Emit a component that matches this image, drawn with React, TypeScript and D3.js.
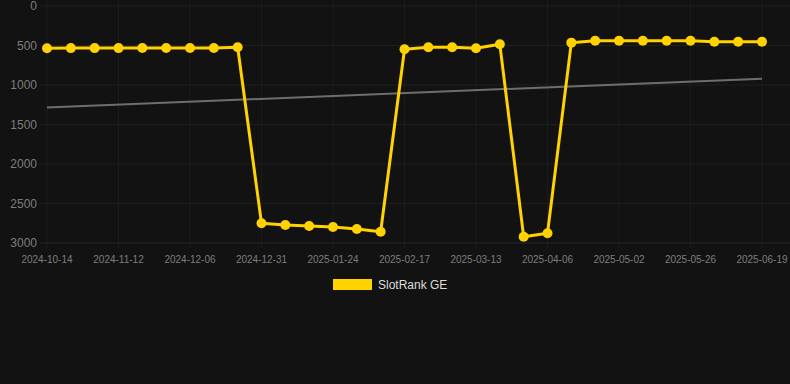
import React from "react";
import * as d3 from "d3";

const tickLabels = [
  "2024-10-14", "2024-11-12", "2024-12-06", "2024-12-31", "2025-01-24",
  "2025-02-17", "2025-03-13", "2025-04-06", "2025-05-02", "2025-05-26", "2025-06-19",
];
const rankValues = [
  535, 533, 533, 533, 532, 532, 532, 532, 522,
  2751, 2772, 2785, 2797, 2823, 2857,
  548, 523, 523, 535, 485,
  2920, 2877,
  464, 439, 439, 439, 439, 439, 452, 452, 452,
];
const trendValues = [1285, 920];
const yTicks = [0, 500, 1000, 1500, 2000, 2500, 3000];
const seriesName = "SlotRank GE";

const W = 790;
const H = 384;
const BG = "#121212";
const YELLOW = "#FFD200";
const HGRID = "#1f1f1f";
const VGRID = "#1b1b1b";
const TICK = "#7d7d7d";

export default function App() {
  const idx = rankValues.map((_, i) => i);
  const x = d3.scaleLinear().domain([0, rankValues.length - 1]).range([47, 762]);
  const y = d3.scaleLinear().domain([0, 3000]).range([6, 243]);
  const line = d3
    .line<number>()
    .x((_, i) => x(i))
    .y((d) => y(d));
  const tickIdx = tickLabels.map((_, i) => i * 3);

  return (
    <svg
      width={W}
      height={H}
      style={{ position: "absolute", left: 0, top: 0, background: BG, fontFamily: "Liberation Sans, Arial, sans-serif" }}
    >
      <rect x={0} y={0} width={W} height={H} fill={BG} />
      {tickIdx.map((ti) => (
        <line key={"v" + ti} x1={x(ti)} x2={x(ti)} y1={0} y2={248} stroke={VGRID} strokeWidth={1} />
      ))}
      {yTicks.map((t) => (
        <g key={"y" + t}>
          <line x1={40} x2={W} y1={y(t)} y2={y(t)} stroke={t === 3000 ? "#262626" : HGRID} strokeWidth={1} />
          <text x={37} y={y(t)} dy="0.35em" textAnchor="end" fill={TICK} fontSize={12}>
            {t}
          </text>
        </g>
      ))}
      {tickIdx.map((ti, k) => (
        <text key={"x" + ti} x={x(ti)} y={259} dy="0.35em" textAnchor="middle" fill={TICK} fontSize={10}>
          {tickLabels[k]}
        </text>
      ))}
      <line
        x1={x(0)}
        x2={x(rankValues.length - 1)}
        y1={y(trendValues[0])}
        y2={y(trendValues[1])}
        stroke="#6e6e6e"
        strokeWidth={2}
      />
      <path d={line(rankValues) || ""} fill="none" stroke={YELLOW} strokeWidth={3} strokeLinejoin="round" />
      {idx.map((i) => (
        <circle key={i} cx={x(i)} cy={y(rankValues[i])} r={5} fill={YELLOW} />
      ))}
      <rect x={333} y={279} width={39} height={11} fill={YELLOW} />
      <text x={378} y={285} dy="0.35em" fill="#dddddd" fontSize={12}>
        {seriesName}
      </text>
    </svg>
  );
}
